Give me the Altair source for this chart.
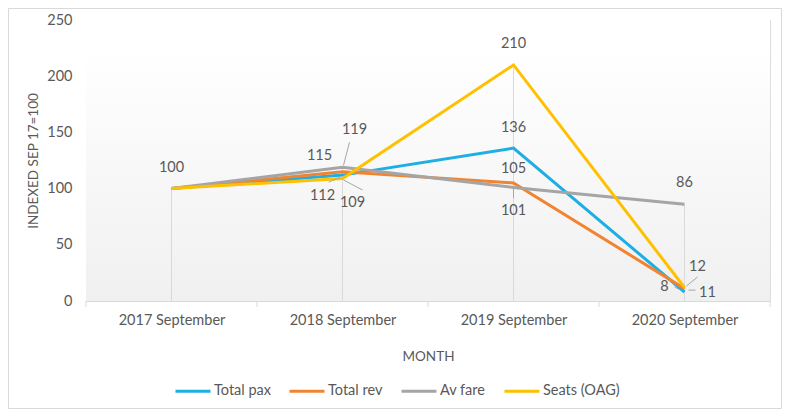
import altair as alt
import pandas as pd

categories = ["2017 September", "2018 September", "2019 September", "2020 September"]
series_names = ["Total pax", "Total rev", "Av fare", "Seats (OAG)"]
total_pax = [100, 112, 136, 8]
total_rev = [100, 115, 105, 11]
av_fare = [100, 119, 101, 86]
seats_oag = [100, 109, 210, 12]
y_ticks = [0, 50, 100, 150, 200, 250]

colors = ["#1DAEE4", "#F28430", "#A5A5A5", "#FFC000"]
FONT = "Lato"
TXT = "#595959"
GRID = "#d9d9d9"

W, H = 684, 281
YMAX = 250
PX_X = W / len(categories)
PX_Y = H / YMAX

series_values = dict(zip(series_names, [total_pax, total_rev, av_fare, seats_oag]))

rows = []
for k, (s, vals) in enumerate(series_values.items()):
    for i, v in enumerate(vals):
        rows.append({"series": s, "i": i, "value": v, "order": k})
df = pd.DataFrame(rows)

# label placement (pixel offsets of label centre from the point) and optional leader line
label_place = {
    ("Av fare", 0): (0, -21, None),
    ("Av fare", 1): (12, -37, (7, -25, 1, -2)),
    ("Total rev", 1): (-23, -16, None),
    ("Total pax", 1): (-20, 21, (-14, 7, -2, 2)),
    ("Seats (OAG)", 1): (10, 25, (1, 1.5, 20, 11.5)),
    ("Seats (OAG)", 2): (0, -21, None),
    ("Total pax", 2): (0, -20, None),
    ("Total rev", 2): (0, -14, None),
    ("Av fare", 2): (0, 24, (0, 1.5, 0, 10.5)),
    ("Av fare", 3): (0, -21, None),
    ("Seats (OAG)", 3): (13, -21, (2, -1.5, 13, -10.5)),
    ("Total pax", 3): (-20, -5, (-10, -5, -4, -2)),
    ("Total rev", 3): (23, 4, (4, 1.5, 11, 1.5)),
}

lab_rows, lead_rows = [], []
for (s, i), (dx, dy, lead) in label_place.items():
    v = series_values[s][i]
    lab_rows.append({"x": i + dx / PX_X, "y": v - dy / PX_Y, "text": str(v)})
    if lead:
        x1, y1, x2, y2 = lead
        lead_rows.append({"x": i + x1 / PX_X, "y": v - y1 / PX_Y,
                          "x2": i + x2 / PX_X, "y2": v - y2 / PX_Y})
labels = pd.DataFrame(lab_rows)
leaders = pd.DataFrame(lead_rows)

drops = pd.DataFrame({"i": list(range(len(categories))),
                      "top": [max(series_values[s][i] for s in series_names) for i in range(len(categories))]})
bounds = pd.DataFrame({"b": [i - 0.5 for i in range(len(categories) + 1)]})

xscale = alt.Scale(domain=[-0.5, len(categories) - 0.5], nice=False, zero=False)
yscale = alt.Scale(domain=[0, YMAX], nice=False)

label_expr = "datum.value % 1 === 0 ? " + str(categories) + "[datum.value] : ''"

bg = alt.Chart(pd.DataFrame({"a": [0]})).mark_rect(
    color=alt.LinearGradient(gradient="linear",
                             stops=[alt.GradientStop(color="#ffffff", offset=0.1),
                                    alt.GradientStop(color="#f0f0f0", offset=1)],
                             x1=0, x2=0, y1=0, y2=1)
).encode(x=alt.value(0), x2=alt.value(W), y=alt.value(0), y2=alt.value(H))

border = alt.Chart(pd.DataFrame({"a": [0]})).mark_rect(
    fillOpacity=0, stroke=GRID, strokeWidth=1
).encode(x=alt.value(-77.5), x2=alt.value(W + 11.5), y=alt.value(-11.5), y2=alt.value(H + 107.5))

base_axis_x = alt.Axis(values=list(range(len(categories))), labelExpr=label_expr, ticks=False,
                       tickSize=0, grid=False, domainColor=GRID, labelFont=FONT, labelFontSize=14.5,
                       labelColor=TXT, labelPadding=12, labelOverlap=False, title="MONTH",
                       titleFont=FONT, titleFontSize=13.5, titleFontWeight="normal", titleColor=TXT,
                       titlePadding=23)
base_axis_y = alt.Axis(values=y_ticks, grid=True, gridColor=GRID, domain=False, ticks=False,
                       labelFont=FONT, labelFontSize=14.5, labelColor=TXT, labelPadding=14,
                       title="INDEXED SEP 17=100", titleFont=FONT, titleFontSize=13.5,
                       titleFontWeight="normal", titleColor=TXT, titlePadding=6)

drop = alt.Chart(drops).mark_rule(color=GRID, strokeWidth=1).encode(
    x=alt.X("i:Q", scale=xscale, axis=base_axis_x),
    y=alt.Y("top:Q", scale=yscale, axis=base_axis_y),
    y2=alt.datum(0),
)

ticks = alt.Chart(bounds).mark_rule(color=GRID, strokeWidth=1).encode(
    x=alt.X("b:Q", scale=xscale), y=alt.value(H), y2=alt.value(H + 6)
)

lines = alt.Chart(df).mark_line(strokeWidth=3).encode(
    x=alt.X("i:Q", scale=xscale),
    y=alt.Y("value:Q", scale=yscale),
    color=alt.Color("series:N", scale=alt.Scale(domain=series_names, range=colors),
                    sort=series_names,
                    legend=alt.Legend(orient="none", legendX=88, legendY=352, direction="horizontal",
                                      title=None, symbolType="stroke", symbolSize=1225,
                                      symbolStrokeWidth=3, labelFont=FONT, labelFontSize=14.5,
                                      labelColor=TXT, labelOffset=2, columnPadding=12)),
    order=alt.Order("order:Q"),
    detail="series:N",
)

leader = alt.Chart(leaders).mark_rule(color="#a6a6a6", strokeWidth=1).encode(
    x=alt.X("x:Q", scale=xscale), y=alt.Y("y:Q", scale=yscale), x2="x2:Q", y2="y2:Q"
)

text = alt.Chart(labels).mark_text(font=FONT, fontSize=14.5, color=TXT, baseline="middle",
                                   align="center").encode(
    x=alt.X("x:Q", scale=xscale), y=alt.Y("y:Q", scale=yscale), text="text:N"
)

chart = alt.layer(bg, border, drop, ticks, lines, leader, text).properties(
    width=W, height=H,
    autosize=alt.AutoSizeParams(type="none"),
    padding={"left": 78, "top": 12, "right": 12, "bottom": 108},
).configure_view(stroke=None).configure(background="white")

chart.save("out.html", embed_options={"renderer": "svg", "actions": False})
